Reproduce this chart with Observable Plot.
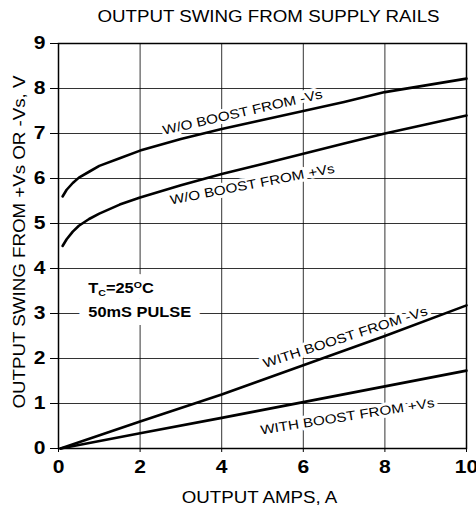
<!DOCTYPE html>
<html><head><meta charset="utf-8">
<script src="https://cdn.jsdelivr.net/npm/d3@7"></script>
<script src="https://cdn.jsdelivr.net/npm/@observablehq/plot@0.6"></script>
<style>body{margin:0;background:#fff}</style>
</head><body><div id="chart"></div>
<script>
const xTicks = [0, 2, 4, 6, 8, 10];
const yTicks = [0, 1, 2, 3, 4, 5, 6, 7, 8, 9];

const xWo = [0.1, 0.2, 0.35, 0.5, 0.75, 1, 1.5, 2, 3, 4, 5, 6, 7, 8, 9, 10];
const yWoNeg = [5.6, 5.75, 5.9, 6.02, 6.15, 6.28, 6.45, 6.62, 6.88, 7.1, 7.3, 7.5, 7.7, 7.92, 8.07, 8.22];
const yWoPos = [4.5, 4.65, 4.82, 4.95, 5.1, 5.22, 5.42, 5.58, 5.85, 6.1, 6.32, 6.55, 6.78, 7.0, 7.2, 7.4];

const xWith = [0.05, 2, 4, 6, 8, 10];
const yWithNeg = [0, 0.6, 1.2, 1.85, 2.5, 3.18];
const yWithPos = [0, 0.34, 0.68, 1.03, 1.38, 1.73];

const labelText = ["W/O BOOST FROM -Vs", "W/O BOOST FROM +Vs", "WITH BOOST FROM -Vs", "WITH BOOST FROM +Vs"];
const labelX = [4.51, 4.75, 7.03, 7.08];
const labelY = [7.47, 5.87, 2.47, 0.71];
const labelAngle = [-13, -11, -18, -9];

const noteText = ["TC=25OC", "50mS PULSE"];
const noteX = [0.73, 0.73];
const noteY = [3.55, 3.02];

const series = [
  ...xWo.map((x, i) => ({name: "woNeg", x, y: yWoNeg[i]})),
  ...xWo.map((x, i) => ({name: "woPos", x, y: yWoPos[i]})),
  ...xWith.map((x, i) => ({name: "withNeg", x, y: yWithNeg[i]})),
  ...xWith.map((x, i) => ({name: "withPos", x, y: yWithPos[i]}))
];
const labels = labelText.map((t, i) => ({t, x: labelX[i], y: labelY[i], r: labelAngle[i]}));
const notes = noteText.map((t, i) => ({t, x: noteX[i], y: noteY[i]}));

const chart = Plot.plot({
  width: 476, height: 506,
  marginTop: 43, marginBottom: 58, marginLeft: 58, marginRight: 10,
  style: {fontFamily: "'Liberation Sans', Arial, sans-serif", background: "#fff", color: "#000", overflow: "visible"},
  x: {domain: [0, 10]},
  y: {domain: [0, 9]},
  marks: [
    Plot.gridX([2, 4, 6, 8], {stroke: "#000", strokeOpacity: 0.8, strokeWidth: 1}),
    Plot.gridY([1, 2, 3, 4, 5, 6, 7, 8], {stroke: "#000", strokeOpacity: 0.8, strokeWidth: 1}),
    Plot.text(notes, {x: "x", y: "y", text: "t", textAnchor: "start", fontSize: 14, fontWeight: "bold",
      fill: "#fff", stroke: "#fff", strokeWidth: 16}),
    Plot.text(notes, {x: "x", y: "y", text: "t", textAnchor: "start", fontSize: 14, fontWeight: "bold", fill: "#000"}),
    Plot.text(labels, {x: "x", y: "y", text: "t", rotate: "r", fontSize: 13, fill: "#000",
      stroke: "#fff", strokeWidth: 6, paintOrder: "stroke"}),
    Plot.frame({stroke: "#000", strokeWidth: 1.5}),
    Plot.line(series, {x: "x", y: "y", z: "name", stroke: "#000", strokeWidth: 2.6}),
    Plot.axisY({ticks: yTicks, tickSize: 8, tickPadding: 5, fontSize: 18, fontWeight: "bold", label: null, tickFormat: d => d}),
    Plot.axisX({ticks: xTicks, tickSize: 4, tickPadding: 8, fontSize: 18, fontWeight: "bold", label: null, tickFormat: d => d}),
    Plot.text(["OUTPUT SWING FROM SUPPLY RAILS"], {frameAnchor: "top", dy: -27, dx: 6, fontSize: 16, lineAnchor: "middle", textAnchor: "middle"}),
    Plot.text(["OUTPUT AMPS, A"], {frameAnchor: "bottom", dy: 49, dx: -3, fontSize: 16, lineAnchor: "middle", textAnchor: "middle"}),
    Plot.text(["OUTPUT SWING FROM +Vs OR -Vs, V"], {frameAnchor: "left", dx: -39, dy: -4, rotate: -90, fontSize: 16, lineAnchor: "middle", textAnchor: "middle"})
  ]
});
document.getElementById("chart").appendChild(chart);

// Tc annotation with subscript / superscript
chart.querySelectorAll("text").forEach(el => {
  if (el.textContent === "TC=25OC") {
    el.textContent = "";
    const parts = [["T", 14, 0], ["C", 9, 3], ["=25", 14, -3], ["O", 9, -5], ["C", 14, 5]];
    for (const [s, fs, dy] of parts) {
      const ts = document.createElementNS("http://www.w3.org/2000/svg", "tspan");
      ts.textContent = s;
      ts.setAttribute("font-size", fs);
      if (dy) ts.setAttribute("dy", dy);
      el.appendChild(ts);
    }
  }
});
// widen glyphs like the reference
const k = 1.17;
chart.querySelectorAll("text").forEach(el => {
  const len = el.getComputedTextLength();
  if (len > 0) {
    el.setAttribute("textLength", (len * k).toFixed(2));
    el.setAttribute("lengthAdjust", "spacingAndGlyphs");
  }
});
</script>
</body></html>
